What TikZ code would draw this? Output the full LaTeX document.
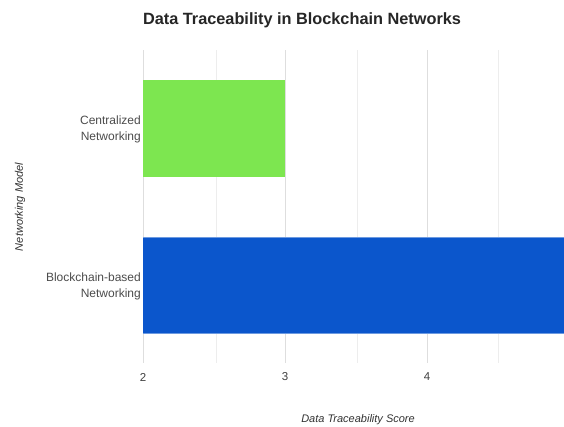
\documentclass[tikz,border=0pt]{standalone}
\usepackage{fontspec}
\setmainfont{Liberation Sans}
\begin{document}
\begin{tikzpicture}[x=1pt,y=-1pt,
  major/.style={draw=black!13,line width=1pt},
  minor/.style={draw=black!7,line width=0.8pt},
  cat/.style={font=\fontsize{12}{16}\selectfont,text=black!70,align=right,anchor=east,inner sep=0pt},
  tick/.style={font=\fontsize{11.5}{13}\selectfont,text=black!75,inner sep=0pt},
  axtitle/.style={font=\fontsize{11}{12}\selectfont\itshape,text=black!80,inner sep=0pt}]
\definecolor{greenbar}{HTML}{7DE650}
\definecolor{bluebar}{HTML}{0B56CC}
\useasboundingbox (0,0) rectangle (564,426);
\fill[white] (0,0) rectangle (564,426);
% grid
\foreach \x in {216,357,498} \draw[minor] (\x,50) -- (\x,363);
\foreach \x in {143,285,427} \draw[major] (\x,50) -- (\x,363);
% bars
\fill[greenbar] (143,80) rectangle (285,177);
\fill[bluebar] (143,237) rectangle (566,333);
\draw[bluebar!60!white,line width=0.8pt] (143,237) -- (566,237) (143,333) -- (566,333);
% title
\node[font=\fontsize{16.3}{18}\selectfont\bfseries,text=black!85] (title) at (302,20) {Data Traceability in Blockchain Networks};
% categories
\node[cat] (c1) at (141,129) {Centralized\\Networking};
\node[cat] (c2) at (141,286) {Blockchain-based\\Networking};
% ticks
\node[tick] (t2) at (143,377) {2};
\node[tick] (t3) at (285,377) {3};
\node[tick] (t4) at (427,377) {4};
\node[tick] (t5) at (569,377) {5};
% axis titles
\node[axtitle] (xt) at (358,420) {Data Traceability Score};
\node[axtitle,rotate=90] (yt) at (20,207) {Networking Model};
\end{tikzpicture}
\end{document}
